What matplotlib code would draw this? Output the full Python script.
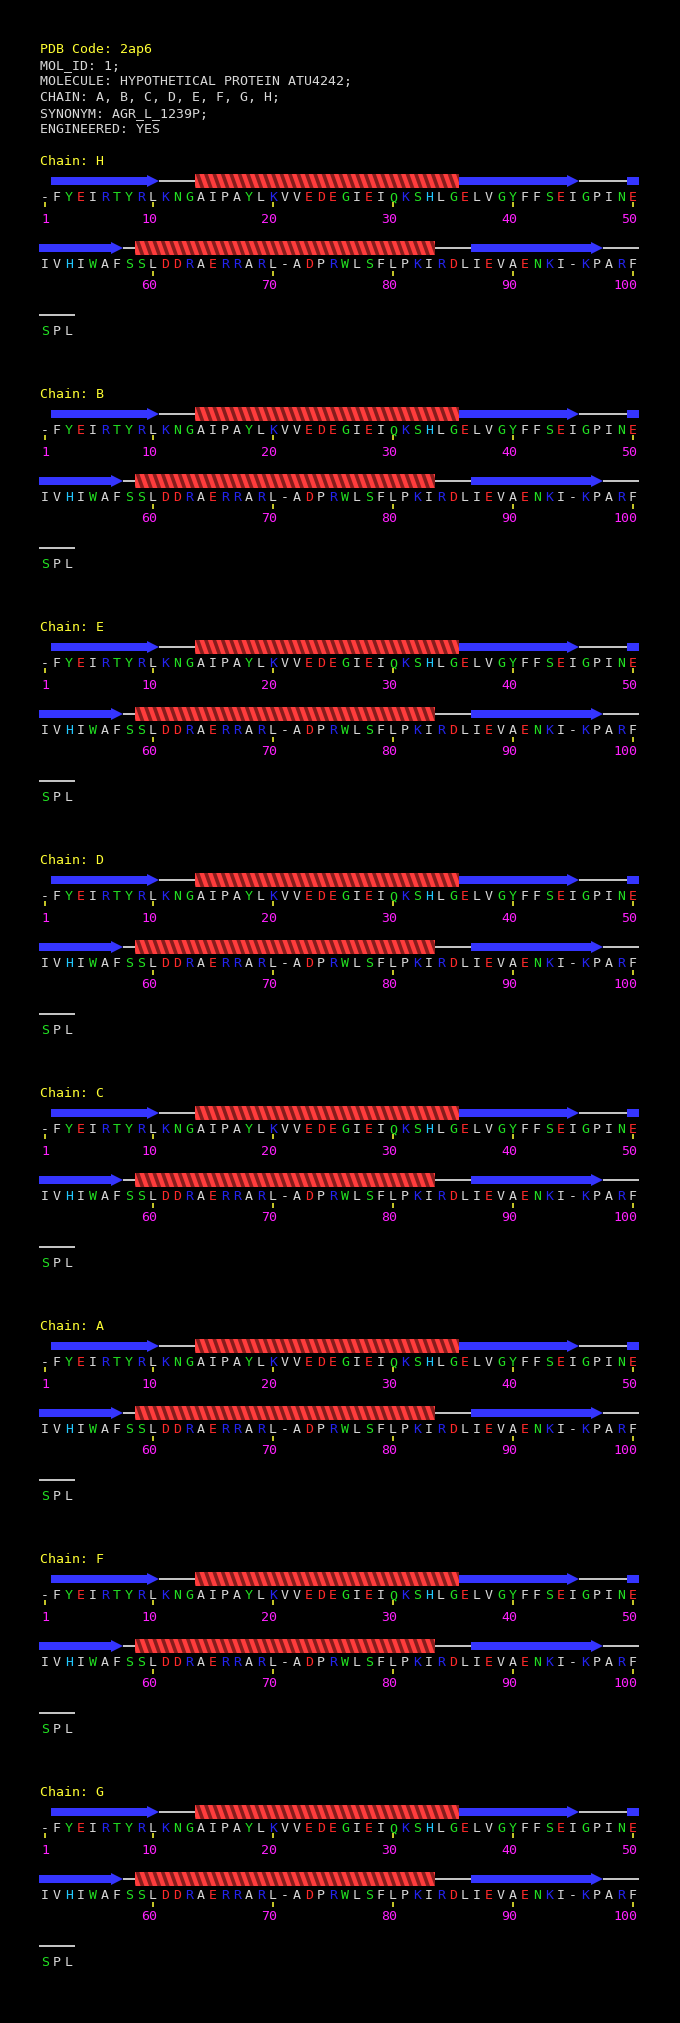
import matplotlib
matplotlib.use("Agg")
import matplotlib.pyplot as plt
from matplotlib.patches import Polygon, Rectangle

# ---------------- data ----------------
pdb_code = "2ap6"
header_lines = ["MOL_ID: 1;",
                "MOLECULE: HYPOTHETICAL PROTEIN ATU4242;",
                "CHAIN: A, B, C, D, E, F, G, H;",
                "SYNONYM: AGR_L_1239P;",
                "ENGINEERED: YES"]
chain_order = ["H", "B", "E", "D", "C", "A", "F", "G"]
sequence = ("-FYEIRTYRLKNGAIPAYLKVVEDEGIEIQKSHLGELVGYFFSEIGPINE"
            "IVHIWAFSSLDDRAERRARL-ADPRWLSFLPKIRDLIEVAENKI-KPARF"
            "SPL")
# secondary structure: (type, first residue, last residue)  E=strand H=helix C=coil
ss_segments = [("E", 2, 10), ("C", 11, 13), ("H", 14, 35), ("E", 36, 45),
               ("C", 46, 49), ("E", 50, 57), ("C", 58, 58), ("H", 59, 83),
               ("C", 84, 86), ("E", 87, 97), ("C", 98, 103)]
tick_residues = [1, 10, 20, 30, 40, 50, 60, 70, 80, 90, 100]

# ---------------- style ----------------
W, H = 680, 2024
ROW_LEN = 50
X0 = 45.0
DX = 12.0
CHAIN_PERIOD = 233
CHAIN_Y0 = 160
FONT = "DejaVu Sans Mono"
FS = 9.5
CAP = 4.8  # half cap height in px

col_red = "#ff2a2a"
col_blue = "#2424f0"
col_green = "#22e022"
col_cyan = "#22c8ff"
col_white = "#d8d8d8"
col_yellow = "#ffff33"
col_mag = "#ff22ff"
col_strand = "#3535ff"
col_helix = "#ff3c3c"
col_helix_dk = "#861c1c"

def res_color(c):
    if c in "DE":
        return col_red
    if c in "KR":
        return col_blue
    if c == "H":
        return col_cyan
    if c in "GSTNQYWC":
        return col_green
    return col_white

fig = plt.figure(figsize=(W / 100, H / 100), dpi=100, facecolor="black")
ax = fig.add_axes([0, 0, 1, 1])
ax.set_xlim(0, W)
ax.set_ylim(H, 0)
ax.axis("off")
ax.set_facecolor("black")

def txt(x, yc, s, color, ha="left"):
    ax.text(x, yc + CAP, s, color=color, fontsize=FS, family=FONT,
            ha=ha, va="baseline")

# header
txt(40, 48, "PDB Code: " + pdb_code, col_yellow)
for i, line in enumerate(header_lines):
    txt(40, 64 + 16 * i, line, col_white)

# per row: (ss centre, letter centre, tick top, number centre) relative to chain label
row_offsets = [(22, 36.5, 43, 58), (89, 103, 112, 124), (156, 170, None, None)]

def xc(res):
    return X0 + DX * ((res - 1) % ROW_LEN)

def draw_strand(xl, xr, yc, head):
    bh = 4.0
    hh = 6.0
    hl = 12.0
    if head:
        ax.add_patch(Rectangle((xl, yc - bh), xr - hl - xl, 2 * bh,
                               facecolor=col_strand, edgecolor="none"))
        ax.add_patch(Polygon([(xr - hl, yc - hh), (xr, yc), (xr - hl, yc + hh)],
                             closed=True, facecolor=col_strand, edgecolor="none"))
    else:
        ax.add_patch(Rectangle((xl, yc - bh), xr - xl, 2 * bh,
                               facecolor=col_strand, edgecolor="none"))

def draw_helix(xl, xr, yc):
    hh = 7.0
    base = Rectangle((xl, yc - hh), xr - xl, 2 * hh, facecolor=col_helix_dk,
                     edgecolor="none")
    ax.add_patch(base)
    period = 8.4
    bw = 4.6
    slant = 5.0
    x = xl - slant + 1
    while x < xr:
        p = Polygon([(x, yc - hh), (x + bw, yc - hh),
                     (x + bw + slant, yc + hh), (x + slant, yc + hh)],
                    closed=True, facecolor=col_helix, edgecolor="none")
        ax.add_patch(p)
        p.set_clip_path(base)
        x += period

def draw_coil(xl, xr, yc):
    ax.plot([xl, xr], [yc, yc], color="white", lw=1.1, solid_capstyle="butt")

for k, ch in enumerate(chain_order):
    y0 = CHAIN_Y0 + CHAIN_PERIOD * k
    txt(40, y0, "Chain: " + ch, col_yellow)
    nrows = (len(sequence) + ROW_LEN - 1) // ROW_LEN
    for r in range(nrows):
        ss_y, seq_y, tk_y, num_y = row_offsets[r]
        first = r * ROW_LEN + 1
        last = min(len(sequence), first + ROW_LEN - 1)
        # secondary structure
        for typ, a, b in ss_segments:
            a2, b2 = max(a, first), min(b, last)
            if a2 > b2:
                continue
            xl = xc(a2) - DX / 2
            xr = xc(b2) + DX / 2
            yy = y0 + ss_y
            if typ == "E":
                draw_strand(xl, xr, yy, head=(b2 == b))
            elif typ == "H":
                draw_helix(xl, xr, yy)
            else:
                draw_coil(xl, xr, yy)
        # residues
        for res in range(first, last + 1):
            c = sequence[res - 1]
            txt(xc(res), y0 + seq_y, c, res_color(c), ha="center")
        # ticks
        if tk_y is not None:
            for t in tick_residues:
                if first <= t <= last:
                    ax.plot([xc(t), xc(t)], [y0 + tk_y, y0 + tk_y + 5],
                            color=col_yellow, lw=1.1, solid_capstyle="butt")
                    txt(xc(t) + 4, y0 + num_y, str(t), col_mag, ha="right")

fig.savefig("out.png", dpi=100, facecolor="black")
